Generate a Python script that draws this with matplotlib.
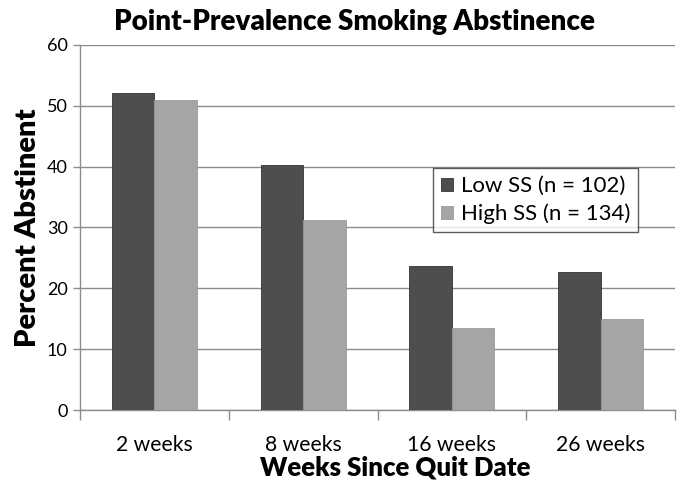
import numpy as np
import matplotlib.pyplot as plt

plt.rcParams['font.family'] = ['Lato', 'DejaVu Sans']

# percent abstinent at each follow-up point
weeks = ['2 weeks', '8 weeks', '16 weeks', '26 weeks']
low_ss = [52.1, 40.3, 23.6, 22.7]
high_ss = [50.9, 31.3, 13.5, 15.0]
series_names = ['Low SS (n = 102)', 'High SS (n = 134)']

dark = '#4e4e4e'
light = '#a5a5a5'
grid_col = '#8c8c8c'

fig = plt.figure(figsize=(6.79, 4.83), dpi=100)
ax = fig.add_axes([0.118, 0.151, 0.876, 0.756])

x = np.arange(len(weeks))
w = 0.285
ax.bar(x - w/2, low_ss, w, color=dark, edgecolor='#333333', linewidth=0.6,
       label=series_names[0], zorder=3)
ax.bar(x + w/2, high_ss, w, color=light, edgecolor='#999999', linewidth=0.6,
       label=series_names[1], zorder=3)

ax.set_xlim(-0.5, len(weeks) - 0.5)
ax.set_ylim(0, 60)
ax.set_yticks(range(0, 61, 10))
ax.yaxis.grid(True, color=grid_col, linewidth=1.0, zorder=0)
ax.set_axisbelow(True)

# category labels sit between the boundary ticks
ax.set_xticks(np.arange(-0.5, len(weeks), 1.0))
ax.set_xticklabels([])
ax.set_xticks(x, minor=True)
ax.set_xticklabels(weeks, minor=True, fontsize=15.2)
ax.tick_params(axis='x', which='major', length=7, color=grid_col, width=1.0,
               direction='out')
ax.tick_params(axis='x', which='minor', length=0, pad=18)
ax.tick_params(axis='y', length=5, color=grid_col, width=1.0, labelsize=13,
               pad=4)

for s in ['top', 'right']:
    ax.spines[s].set_visible(False)
for s in ['left', 'bottom']:
    ax.spines[s].set_color(grid_col)
    ax.spines[s].set_linewidth(1.0)

ax.set_ylabel('Percent Abstinent', fontsize=21, fontweight='heavy', labelpad=4)
ax.set_xlabel('Weeks Since Quit Date', fontsize=18.5, fontweight='heavy')
ax.xaxis.set_label_coords(0.53, -0.125)
fig.text(0.522, 0.955, 'Point-Prevalence Smoking Abstinence', ha='center',
         va='center', fontsize=20, fontweight='heavy')

leg = ax.legend(loc='upper left', bbox_to_anchor=(0.593, 0.662),
                fontsize=16, frameon=True, fancybox=False, borderpad=0.35,
                handlelength=0.55, handleheight=0.55, handletextpad=0.35,
                labelspacing=0.35, borderaxespad=0)
leg.get_frame().set_edgecolor('#333333')
leg.get_frame().set_linewidth(1.0)

fig.savefig('out.png', dpi=100)
